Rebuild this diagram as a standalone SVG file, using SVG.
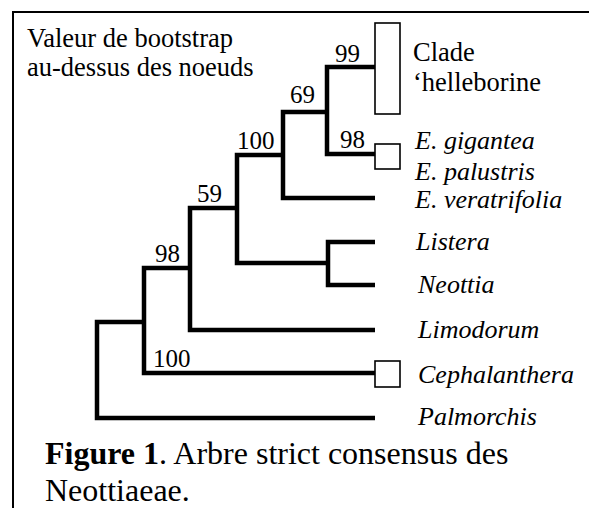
<svg xmlns="http://www.w3.org/2000/svg" width="589" height="508" viewBox="0 0 589 508" font-family="'Liberation Serif', 'Times New Roman', serif">
<style>
.lbl{font-family:'Liberation Serif','Times New Roman',serif;font-size:25px}
.tx{font-family:'Liberation Serif','Times New Roman',serif;font-size:26px;font-style:italic}
.hd{font-family:'Liberation Serif','Times New Roman',serif;font-size:26.5px}
.cap{font-family:'Liberation Serif','Times New Roman',serif;font-size:32px}
.br{fill:none;stroke:#000;stroke-width:4.5;stroke-linejoin:miter;stroke-linecap:butt}
.box{fill:#fff;stroke:#000;stroke-width:1.6}
</style>
<rect x="0" y="0" width="589" height="508" fill="#fff"/>
<path d="M13,508 V12 H589" fill="none" stroke="#000" stroke-width="2"/>
<g id="header"><text class="hd" x="27" y="47">Valeur de bootstrap</text><text class="hd" x="27" y="76">au-dessus des noeuds</text></g>
<g id="connectors">
<path class="br" d="M144,322 H97 V418 H375"/>
<path class="br" d="M190,268 H144 V373 H375"/>
<path class="br" d="M237,208 H190 V330 H375"/>
<path class="br" d="M283,155 H237 V263 H328"/>
<path class="br" d="M375,242 H328 V285 H375"/>
<path class="br" d="M327,112 H283 V198 H375"/>
<path class="br" d="M375,67 H327 V154 H375"/>
</g>
<g id="bootstrap">
<text class="lbl" x="335" y="62">99</text>
<text class="lbl" x="290" y="103">69</text>
<text class="lbl" x="340" y="148">98</text>
<text class="lbl" x="237" y="149">100</text>
<text class="lbl" x="197" y="202">59</text>
<text class="lbl" x="155" y="262">98</text>
<text class="lbl" x="153" y="367">100</text>
</g>
<g id="helleborine"><rect class="box" x="375" y="23" width="25" height="91"/><text class="hd" x="413" y="61">Clade</text><text class="hd" x="413" y="91">‘helleborine</text></g>
<g id="gigantea"><rect class="box" x="375" y="144" width="25" height="25"/><text class="tx" x="415" y="149">E. gigantea</text><text class="tx" x="415" y="180">E. palustris</text></g>
<g id="veratrifolia"><text class="tx" x="415" y="208">E. veratrifolia</text></g>
<g id="listera"><text class="tx" x="416" y="250">Listera</text></g>
<g id="neottia"><text class="tx" x="418" y="293">Neottia</text></g>
<g id="limodorum"><text class="tx" x="418" y="338">Limodorum</text></g>
<g id="cephalanthera"><rect class="box" x="375" y="361" width="25" height="26"/><text class="tx" x="418" y="383">Cephalanthera</text></g>
<g id="palmorchis"><text class="tx" x="418" y="425">Palmorchis</text></g>
<g id="caption"><text class="cap" x="45" y="464"><tspan font-weight="bold">Figure 1</tspan>. Arbre strict consensus des</text><text class="cap" x="45" y="501">Neottiaeae.</text></g>
</svg>
